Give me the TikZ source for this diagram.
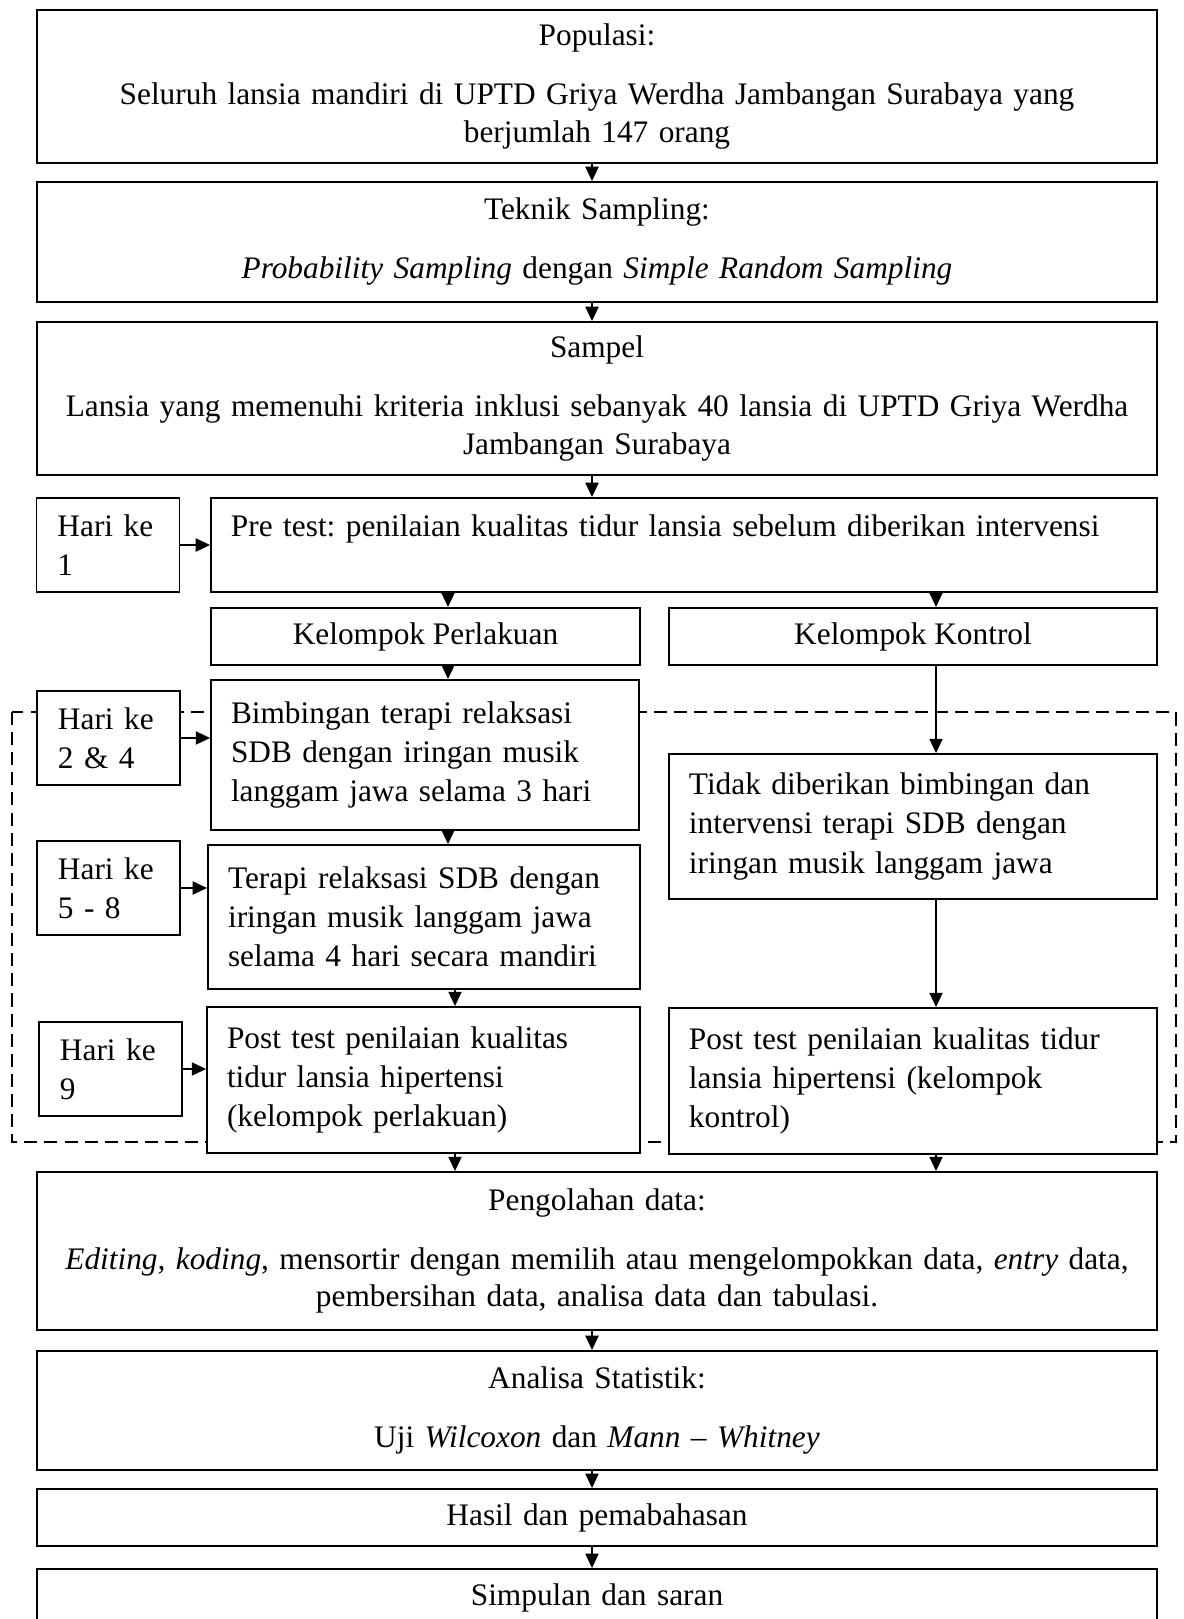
\documentclass[tikz,border=0pt]{standalone}
\usepackage{fontspec}
\setmainfont{Liberation Serif}
\usetikzlibrary{arrows.meta}
\frenchspacing

\begin{document}
\begin{tikzpicture}[x=0.383pt, y=-0.383pt,
            every node/.style={draw,fill=white,rectangle,line width=0.7pt,inner sep=0pt,
                font=\fontsize{12}{14.2}\selectfont},
            mainbox/.style={minimum width=428.96pt,text width=417.5pt,align=center},
            daybox/.style={minimum width=54.77pt,minimum height=36pt,text width=38.7pt,align=left,
                font=\fontsize{12}{15}\selectfont},
            colbox/.style={align=left,font=\fontsize{12}{15}\selectfont},
            arr/.style={-{Triangle[length=5.5pt,width=5pt]},line width=0.7pt},
            dashbox/.style={dash pattern=on 5pt off 2.7pt,line width=0.5pt}]
                \useasboundingbox (0,0) rectangle (1184,1619);
                \clip (0,0) rectangle (1184,1619);
                % dashed frame of the intervention days
                \draw[dashbox] (12,712) rectangle (1176,1142);
                \coordinate (mcol) at (592,0);
                \coordinate (lcol) at (448,0);
                \coordinate (lcol2) at (455,0);
                \coordinate (rcol) at (936,0);
                % main column
                \node[mainbox,minimum height=58.6pt](pop) at (597,86.5) {Populasi:\\[8.4pt]
                    Seluruh lansia mandiri di UPTD Griya Werdha Jambangan Surabaya yang\\ berjumlah 147 orang};
                \node[mainbox,minimum height=45.96pt](tek) at (597,242) {Teknik Sampling:\\[8.4pt]
                    \textit{Probability Sampling} dengan \textit{Simple Random Sampling}};
                \node[mainbox,minimum height=58.6pt](sam) at (597,398.5) {Sampel\\[8.4pt]
                    Lansia yang memenuhi kriteria inklusi sebanyak 40 lansia di UPTD Griya Werdha\\ Jambangan Surabaya};
                % day 1
                \node[daybox](h1) at (108,545) {Hari ke\\ 1};
                \node[colbox,minimum width=362.3pt,minimum height=36pt,text width=347pt](pre) at (684,545)
                    {Pre test: penilaian kualitas tidur lansia sebelum diberikan intervensi\\ \mbox{}};
                \node[minimum width=164.3pt,minimum height=21.83pt](kp) at (425.5,636.5) {Kelompok Perlakuan};
                \node[minimum width=186.9pt,minimum height=21.83pt](kk) at (913,636.5) {Kelompok Kontrol};
                % days 2 - 9
                \node[daybox](h24) at (108.5,738) {Hari ke\\ 2 \& 4};
                \node[colbox,minimum width=163.9pt,minimum height=57.45pt,text width=148.6pt](bim) at (425,755)
                    {Bimbingan terapi relaksasi\\ SDB dengan iringan musik\\ langgam jawa selama 3 hari};
                \node[colbox,minimum width=186.9pt,minimum height=55.5pt,text width=171.6pt](tid) at (913,826.5)
                    {Tidak diberikan bimbingan dan\\ intervensi terapi SDB dengan\\ iringan musik langgam jawa};
                \node[daybox](h58) at (108.5,888) {Hari ke\\ 5 - 8};
                \node[colbox,minimum width=165.5pt,minimum height=55.15pt,text width=150.1pt](ter) at (424,917)
                    {Terapi relaksasi SDB dengan\\ iringan musik langgam jawa\\ selama 4 hari secara mandiri};
                \node[daybox](h9) at (110.5,1069) {Hari ke\\ 9};
                \node[colbox,minimum width=165.8pt,minimum height=55.9pt,text width=150.5pt](pstp) at (423.5,1080)
                    {Post test penilaian kualitas\\ tidur lansia hipertensi\\ (kelompok perlakuan)};
                \node[colbox,minimum width=186.9pt,minimum height=55.9pt,text width=171.6pt](pstk) at (913,1081)
                    {Post test penilaian kualitas tidur\\ lansia hipertensi (kelompok\\ kontrol)};
                % analysis
                \node[mainbox,minimum height=60.5pt](peng) at (597,1251) {Pengolahan data:\\[8.4pt]
                    \textit{Editing, koding}, mensortir dengan memilih atau mengelompokkan data, \textit{entry} data,\\
                    pembersihan data, analisa data dan tabulasi.};
                \node[mainbox,minimum height=45.6pt](ana) at (597,1410.5) {Analisa Statistik:\\[8.4pt]
                    Uji \textit{Wilcoxon} dan \textit{Mann -- Whitney}};
                \node[mainbox,minimum height=21.83pt](has) at (597,1517.5) {Hasil dan pemabahasan};
                \node[mainbox,minimum height=21.83pt](sim) at (597,1597.5) {Simpulan dan saran};
                % arrows
                \draw[arr] (pop.south -| mcol) -- (tek.north -| mcol);
                \draw[arr] (tek.south -| mcol) -- (sam.north -| mcol);
                \draw[arr] (sam.south -| mcol) -- (pre.north -| mcol);
                \draw[arr] (h1.east) -- (h1.east -| pre.west);
                \draw[arr] (pre.south -| lcol) -- (kp.north -| lcol);
                \draw[arr] (pre.south -| rcol) -- (kk.north -| rcol);
                \draw[arr] (kp.south -| lcol) -- (bim.north -| lcol);
                \draw[arr] (h24.east) -- (h24.east -| bim.west);
                \draw[arr] (kk.south -| rcol) -- (tid.north -| rcol);
                \draw[arr] (bim.south -| lcol) -- (ter.north -| lcol);
                \draw[arr] (h58.east) -- (h58.east -| ter.west);
                \draw[arr] (ter.south -| lcol2) -- (pstp.north -| lcol2);
                \draw[arr] (h9.east) -- (h9.east -| pstp.west);
                \draw[arr] (tid.south -| rcol) -- (pstk.north -| rcol);
                \draw[arr] (pstp.south -| lcol2) -- (peng.north -| lcol2);
                \draw[arr] (pstk.south -| rcol) -- (peng.north -| rcol);
                \draw[arr] (peng.south -| mcol) -- (ana.north -| mcol);
                \draw[arr] (ana.south -| mcol) -- (has.north -| mcol);
                \draw[arr] (has.south -| mcol) -- (sim.north -| mcol);
        \end{tikzpicture}
\end{document}
